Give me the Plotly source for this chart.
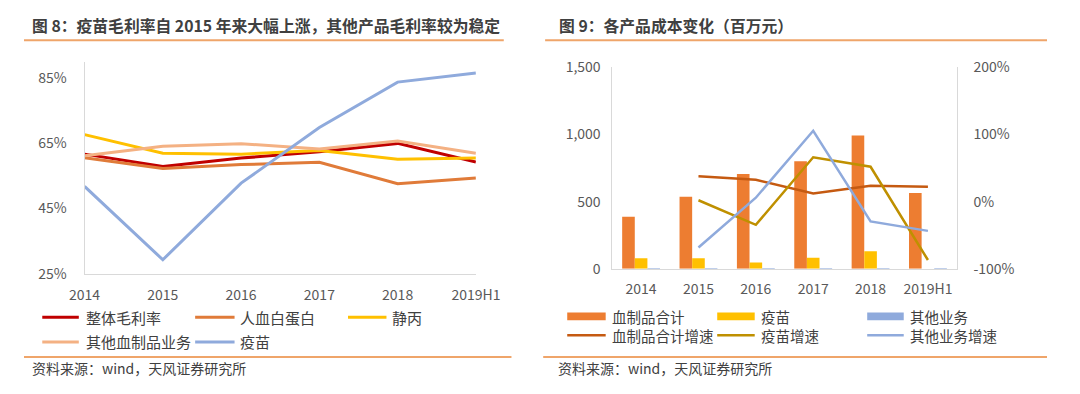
import plotly.graph_objects as go

# ---------------- data ----------------
years = ["2014", "2015", "2016", "2017", "2018", "2019H1"]

# Figure 8: gross margin (%)
margin_names = ["整体毛利率", "人血白蛋白", "静丙", "其他血制品业务", "疫苗"]
overall_margin = [61.7, 57.9, 60.5, 62.4, 65.0, 59.3]
albumin_margin = [60.6, 57.3, 58.5, 59.2, 52.6, 54.4]
ivig_margin = [67.7, 62.0, 61.7, 62.8, 60.1, 60.5]
other_blood_margin = [61.2, 64.1, 64.9, 63.3, 65.7, 62.0]
vaccine_margin = [51.8, 29.3, 52.8, 69.9, 83.8, 86.6]
margin_ticks = [25, 45, 65, 85]

# Figure 9: cost (million yuan) and growth (%)
cost_names = ["血制品合计", "疫苗", "其他业务"]
growth_names = ["血制品合计增速", "疫苗增速", "其他业务增速"]
cost_blood = [388, 536, 705, 800, 992, 564]
cost_vaccine = [78, 78, 47, 82, 130, 0]
cost_other = [3, 2, 2, 2, 2, 1]
growth_blood = [None, 37.8, 32.6, 12.0, 23.7, 22.0]
growth_vaccine = [None, 2.0, -34.6, 66.0, 51.9, -87.0]
growth_other = [None, -68.4, 5.8, 105.5, -29.5, -43.6]
growth_ticks = [-100, 0, 100, 200]

title_left = "图 8：疫苗毛利率自 2015 年来大幅上涨，其他产品毛利率较为稳定"
title_right = "图 9：各产品成本变化（百万元）"
source_text = "资料来源：wind，天风证券研究所"

# ---------------- styling ----------------
OFF = 8  # default page body margin
W, H = 1080 - 2 * OFF, 394 - 2 * OFF
FONT = "Noto Sans CJK SC, Noto Sans, sans-serif"
TICK_COLOR = "#595959"
TEXT_COLOR = "#404040"
AXIS_COLOR = "#D9D9D9"
RULE_COLOR = "#EFA56A"

margin_colors = ["#C00000", "#E07B39", "#FFC000", "#F4B183", "#8FAADC"]
cost_colors = ["#ED7D31", "#FFC000", "#8FAADC"]
growth_colors = ["#C55A11", "#BF9000", "#8FAADC"]


def px(x):
    return (x - OFF) / W


def py(y):
    return 1 - (y - OFF) / H


fig = go.Figure()

margin_series = [overall_margin, albumin_margin, ivig_margin, other_blood_margin, vaccine_margin]
for name, vals, col in zip(margin_names, margin_series, margin_colors):
    fig.add_trace(go.Scatter(x=years, y=vals, name=name, mode="lines",
                             line=dict(color=col, width=3),
                             xaxis="x", yaxis="y", showlegend=False))

for name, vals, col in zip(cost_names, [cost_blood, cost_vaccine, cost_other], cost_colors):
    fig.add_trace(go.Bar(x=years, y=vals, name=name, marker=dict(color=col, line=dict(width=0)),
                         xaxis="x2", yaxis="y2", showlegend=False))

for name, vals, col in zip(growth_names, [growth_blood, growth_vaccine, growth_other], growth_colors):
    fig.add_trace(go.Scatter(x=years, y=vals, name=name, mode="lines",
                             line=dict(color=col, width=2.5),
                             xaxis="x2", yaxis="y3", showlegend=False))

tickfont = dict(family=FONT, size=14, color=TICK_COLOR)

fig.update_layout(
    width=W, height=H,
    margin=dict(l=0, r=0, t=0, b=0),
    paper_bgcolor="white", plot_bgcolor="white",
    font=dict(family=FONT, color=TEXT_COLOR),
    barmode="group", bargap=0.34, bargroupgap=0,
    showlegend=False,
    xaxis=dict(domain=[px(71), px(478)], type="category", showline=True, linecolor=AXIS_COLOR,
               linewidth=1, showgrid=False, zeroline=False, ticks="", tickfont=tickfont,
               ticklabelstandoff=8, anchor="y", fixedrange=True),
    yaxis=dict(domain=[py(277), py(53.3)], range=[25, 90], tickvals=margin_ticks,
               ticktext=[f"{v}%" for v in margin_ticks],
               showline=True, linecolor=AXIS_COLOR, linewidth=1,
               showgrid=False, zeroline=False, ticks="", tickfont=tickfont,
               ticklabelstandoff=14, anchor="x", fixedrange=True),
    xaxis2=dict(domain=[px(620), px(978)], type="category", showline=True, linecolor=AXIS_COLOR,
                linewidth=1, showgrid=False, zeroline=False, ticks="", tickfont=tickfont,
                ticklabelstandoff=7, anchor="y2", fixedrange=True),
    yaxis2=dict(domain=[py(271.7), py(59)], range=[0, 1500], dtick=500, tickformat=",",
                showline=True, linecolor=AXIS_COLOR, linewidth=1, showgrid=False,
                zeroline=False, ticks="", tickfont=tickfont, ticklabelstandoff=8,
                anchor="x2", fixedrange=True),
    yaxis3=dict(domain=[py(271.7), py(59)], range=[-100, 200], tickvals=growth_ticks,
                ticktext=[f"{v}%" for v in growth_ticks],
                overlaying="y2", side="right", showline=True, linecolor=AXIS_COLOR, linewidth=1,
                showgrid=False, zeroline=False, ticks="", tickfont=tickfont,
                ticklabelstandoff=13, anchor="x2", fixedrange=True),
)

shapes = []
annotations = []

annotations.append(dict(x=px(14), y=py(15), xref="paper", yref="paper", text="<b>" + title_left + "</b>",
                        showarrow=False, xanchor="left", yanchor="middle",
                        font=dict(family=FONT, size=15.8, color=TEXT_COLOR)))
annotations.append(dict(x=px(562), y=py(15), xref="paper", yref="paper", text="<b>" + title_right + "</b>",
                        showarrow=False, xanchor="left", yanchor="middle",
                        font=dict(family=FONT, size=15.8, color=TEXT_COLOR)))
for (x0, x1, yy) in [(8, 507, 30.5), (550, 1072, 30.5), (8, 515, 365), (548, 1072, 365)]:
    shapes.append(dict(type="line", xref="paper", yref="paper", x0=px(x0), x1=px(x1),
                       y0=py(yy), y1=py(yy), line=dict(color=RULE_COLOR, width=2)))
for xs in [14, 561]:
    annotations.append(dict(x=px(xs), y=py(377), xref="paper", yref="paper", text=source_text,
                            showarrow=False, xanchor="left", yanchor="middle",
                            font=dict(family=FONT, size=14, color=TEXT_COLOR)))

# legend of figure 8
left_pos = [(27, 65, 70, 323), (186, 227, 231, 323), (345, 385, 389, 323),
            (27, 65, 70, 349), (186, 227, 231, 349)]
for name, col, (x0, x1, tx, yy) in zip(margin_names, margin_colors, left_pos):
    shapes.append(dict(type="line", xref="paper", yref="paper", x0=px(x0), x1=px(x1),
                       y0=py(yy), y1=py(yy), line=dict(color=col, width=3)))
    annotations.append(dict(x=px(tx), y=py(yy), xref="paper", yref="paper", text=name,
                            showarrow=False, xanchor="left", yanchor="middle",
                            font=dict(family=FONT, size=15, color=TEXT_COLOR)))

# legend of figure 9
right_cols = [(573, 613, 617), (729, 768, 772), (885, 923, 927)]
for name, col, (x0, x1, tx) in zip(cost_names, cost_colors, right_cols):
    shapes.append(dict(type="rect", xref="paper", yref="paper", x0=px(x0), x1=px(x1),
                       y0=py(326), y1=py(318), fillcolor=col, line=dict(width=0)))
    annotations.append(dict(x=px(tx), y=py(322), xref="paper", yref="paper", text=name,
                            showarrow=False, xanchor="left", yanchor="middle",
                            font=dict(family=FONT, size=14.5, color=TEXT_COLOR)))
for name, col, (x0, x1, tx) in zip(growth_names, growth_colors, right_cols):
    shapes.append(dict(type="line", xref="paper", yref="paper", x0=px(x0), x1=px(x1),
                       y0=py(342), y1=py(342), line=dict(color=col, width=2.5)))
    annotations.append(dict(x=px(tx), y=py(342), xref="paper", yref="paper", text=name,
                            showarrow=False, xanchor="left", yanchor="middle",
                            font=dict(family=FONT, size=14.5, color=TEXT_COLOR)))

fig.update_layout(shapes=shapes, annotations=annotations)

fig.write_html("out.html", config={"displayModeBar": False})
